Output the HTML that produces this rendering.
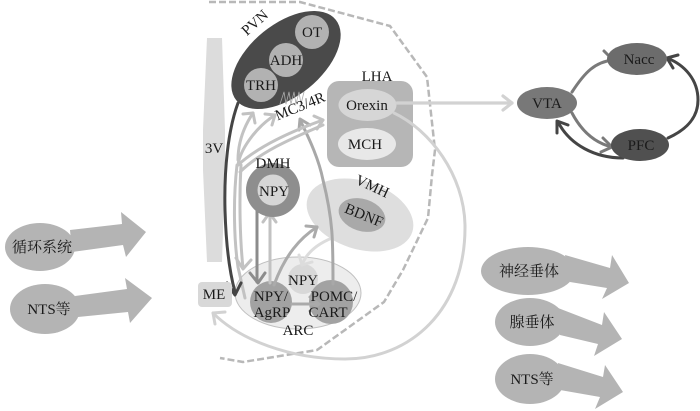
<!DOCTYPE html>
<html>
<head>
<meta charset="utf-8">
<style>
html,body{margin:0;padding:0;background:#fff;width:700px;height:411px;overflow:hidden}
svg{display:block;filter:blur(.35px)}
text{font-family:"Liberation Serif","Noto Serif CJK SC",serif;font-size:15px;fill:#1a1a1a;text-anchor:middle}
.l{fill:none;stroke-linecap:round;stroke-linejoin:round}
</style>
</head>
<body>
<svg width="700" height="411" viewBox="0 0 700 411" xmlns="http://www.w3.org/2000/svg">
<!-- dashed boundary -->
<path class="l" d="M209 2H300L390 26L427 77L435 150L432 175L428 218L403 270L384 302L317 350L243 362L220 358" stroke="#b8b8b8" stroke-width="2.500" stroke-dasharray="7 3" style="stroke-linecap:butt"/>

<!-- 3V -->
<path d="M207 38H222L225 130L225 170L222 262H207L203 170L203 130Z" fill="#dcdcdc"/>
<text x="214" y="153">3V</text>

<!-- LHA -->
<rect x="327" y="81" width="86" height="86" rx="12" fill="#b6b6b6"/>
<ellipse cx="367.500" cy="105" rx="29" ry="16" fill="#d6d6d6"/>
<ellipse cx="367" cy="144" rx="29" ry="16" fill="#e8e8e8"/>
<text x="377" y="81">LHA</text>
<text x="367" y="110">Orexin</text>
<text x="365" y="149">MCH</text>

<!-- VMH -->
<ellipse cx="360" cy="215" rx="55" ry="34" transform="rotate(18 360 215)" fill="#dedede"/>
<ellipse cx="362" cy="215" rx="24" ry="16" transform="rotate(18 362 215)" fill="#a9a9a9"/>
<text x="372" y="191" transform="rotate(25 372 187)">VMH</text>
<text x="364" y="220" transform="rotate(22 364 215)">BDNF</text>

<!-- ARC -->
<ellipse cx="298" cy="293" rx="63" ry="36" fill="#ededed" stroke="#c0c0c0" stroke-width="1"/>
<circle cx="303" cy="279" r="15" fill="#d8d8d8"/>
<circle cx="271" cy="302" r="21" fill="#a2a2a2"/>
<circle cx="331" cy="302" r="22" fill="#a2a2a2"/>

<!-- connectors -->
<g class="l" stroke="#c2c2c2" stroke-width="3">
  <path d="M274 285C285 255 300 238 317 227" stroke="#ababab"/>
  <path d="M306 226L317 227L314 237" stroke="#ababab"/>
  <path d="M332 238C315 245 306 254 302 265" stroke="#dcdcdc"/>
  <path d="M299 255L302 265L312 262" stroke="#dcdcdc"/>
  <path d="M270 283V214"/>
  <path d="M263 222L269.500 213L276 222"/>
  <path d="M257 208V282" stroke="#8c8c8c"/>
  <path d="M250 273L258 283L265 273" stroke="#8c8c8c"/>
  <path d="M292 304H318" stroke="#aaaaaa"/>
  <path d="M310 297L319 304L310 311" stroke="#aaaaaa"/>
  <path d="M333 284C333 240 333 220 323 180C319 160 310 140 300 120" stroke="#a8a8a8"/>
  <path d="M299 130L300 119L310 125" stroke="#a8a8a8"/>
  <path d="M238 160C238 140 245 125 253 113"/>
  <path d="M243 114L253 113L255 123"/>
  <path d="M238 165C240 150 255 128 275 115"/>
  <path d="M265 114L275 115L272 125"/>
  <path d="M238 165C260 145 295 130 323 120"/>
  <path d="M314 116L323 120L317 129"/>
  <path d="M240 172C262 150 300 135 323 125"/>
  <path d="M241 165C239 200 240 240 243 268"/>
  <path d="M236 258L243 269L251 260"/>
  <path d="M237 165C233 200 234 240 238 267L245 298"/>
</g>
<path class="l" d="M238 103C228 130 224 170 225 210C226 245 229 270 235 292" stroke="#454545" stroke-width="3"/>
<path class="l" d="M227 283L235 295L241 283" stroke="#454545" stroke-width="3"/>

<!-- Orexin curves -->
<g class="l" stroke="#d2d2d2" stroke-width="3">
  <path d="M394 113C430 130 464 175 465 225C466 310 410 359 345 359C290 359 240 340 213 313"/>
  <path d="M215 324L213 313L225 312"/>
  <path d="M397 103H512" stroke-width="3.200"/>
  <path d="M503 96L512 103L503 110" stroke-width="3.200"/>
</g>

<!-- PVN -->
<ellipse cx="286" cy="60" rx="64" ry="36" transform="rotate(-39 286 60)" fill="#4a4a4a"/>
<circle cx="312" cy="32" r="17" fill="#b2b2b2"/>
<circle cx="286" cy="60" r="17" fill="#b2b2b2"/>
<circle cx="261" cy="85" r="17" fill="#b2b2b2"/>
<text x="256" y="27" transform="rotate(-42 256 24)">PVN</text>
<text x="312" y="37">OT</text>
<text x="286" y="65">ADH</text>
<text x="261" y="90">TRH</text>
<path class="l" d="M280 104L284 92L286 104L289 92L291 104L294 92L296 104L299 92L301 104L304 92L300 108" stroke="#aaaaaa" stroke-width=".8"/>
<text x="300" y="111" transform="rotate(-22 300 106)">MC3/4R</text>

<!-- DMH -->
<circle cx="273" cy="190" r="27" fill="#8e8e8e"/>
<circle cx="273" cy="190" r="15.500" fill="#d6d6d6"/>
<text x="273" y="168">DMH</text>
<text x="274" y="196">NPY</text>

<!-- ARC labels -->
<text x="303" y="285">NPY</text>
<text x="271" y="301">NPY/</text>
<text x="272" y="317">AgRP</text>
<text x="334" y="301">POMC/</text>
<text x="328" y="317">CART</text>
<text x="298" y="335">ARC</text>

<!-- ME -->
<rect x="198" y="282" width="34" height="25" rx="4" fill="#d8d8d8"/>
<text x="214" y="299">ME</text>

<!-- right network -->
<g class="l" stroke-width="3">
  <path d="M572 92C585 72 595 62 613 60" stroke="#7a7a7a"/>
  <path d="M604 51L613 60" stroke="#7a7a7a"/>
  <path d="M572 113C582 132 595 143 612 147" stroke="#7a7a7a"/>
  <path d="M603 138L612 147L601 152" stroke="#7a7a7a"/>
  <path d="M623 158C595 158 570 145 558 122" stroke="#454545"/>
  <path d="M557 133L557 121L568 125" stroke="#454545"/>
  <path d="M668 138C690 128 698 115 698 100C698 80 685 65 667 58" stroke="#454545"/>
  <path d="M678 55L667 58L673 68" stroke="#454545"/>
</g>
<ellipse cx="547" cy="103" rx="30" ry="16" fill="#787878"/>
<ellipse cx="637" cy="59" rx="30" ry="16" fill="#6c6c6c"/>
<ellipse cx="640" cy="145" rx="29" ry="16" fill="#505050"/>
<text x="547" y="108">VTA</text>
<text x="639" y="64">Nacc</text>
<text x="641" y="150">PFC</text>

<!-- left fat arrows -->
<g fill="#b4b4b4">
  <ellipse cx="40" cy="247" rx="35" ry="24"/>
  <path d="M70 230L122 224L121 212L146 232L126 257L123 245L72 252Z"/>
  <ellipse cx="45" cy="309" rx="35" ry="25"/>
  <path d="M75 296L127 289L125 278L152 298L130 323L128 312L78 317Z"/>
  <!-- right fat arrows -->
  <ellipse cx="528" cy="271" rx="47" ry="24"/>
  <path d="M565 255L610 268L612 255L629 283L602 299L607 288L570 282Z"/>
  <ellipse cx="530" cy="322" rx="35" ry="24"/>
  <path d="M558 308L602 325L604 312L622 339L594 356L598 344L560 335Z"/>
  <ellipse cx="530" cy="379" rx="35" ry="25"/>
  <path d="M558 363L603 377L605 365L623 392L595 409L600 397L560 390Z"/>
</g>
<text x="42" y="252">循环系统</text>
<text x="49" y="314">NTS等</text>
<text x="529" y="276">神经垂体</text>
<text x="532" y="327">腺垂体</text>
<text x="532" y="384">NTS等</text>
</svg>
</body>
</html>
